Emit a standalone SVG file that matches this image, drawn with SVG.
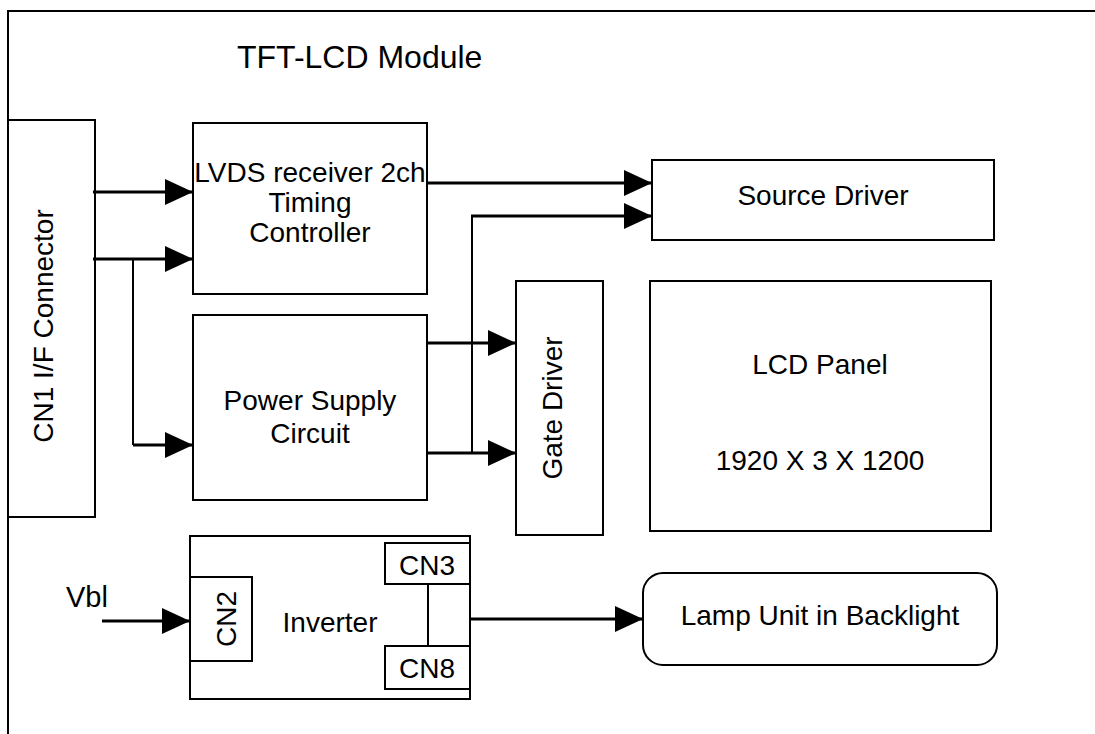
<svg xmlns="http://www.w3.org/2000/svg" width="1095" height="734" viewBox="0 0 1095 734">
<style>
.box{fill:#fff;stroke:#000;stroke-width:2}
.t{font-family:"Liberation Sans",Arial,sans-serif;font-size:28px;fill:#000;text-anchor:middle}
.w{fill:none;stroke:#000;stroke-width:3}
.thin{fill:none;stroke:#000;stroke-width:2}
</style>
<defs>
<marker id="ah" markerUnits="userSpaceOnUse" markerWidth="28" markerHeight="26" refX="28" refY="13" orient="auto">
<path d="M0,0 L28,13 L0,26 z" fill="#000"/>
</marker>
</defs>
<rect width="1095" height="734" fill="#fff"/>
<g id="frame">
<path d="M8,734 L8,11 L1095,11" fill="none" stroke="#000" stroke-width="2"/>
<text x="237" y="68" font-family="'Liberation Sans',Arial,sans-serif" font-size="32" fill="#000">TFT-LCD Module</text>
</g>
<g id="cn1">
<rect class="box" x="8" y="120" width="87" height="397"/>
<text class="t" transform="translate(53,326) rotate(-90)">CN1 I/F Connector</text>
</g>
<g id="lvds">
<rect class="box" x="193" y="123" width="234" height="171"/>
<text class="t" x="310" y="182">LVDS receiver 2ch</text>
<text class="t" x="310" y="212">Timing</text>
<text class="t" x="310" y="242">Controller</text>
</g>
<g id="power">
<rect class="box" x="193" y="315" width="234" height="185"/>
<text class="t" x="310" y="410">Power Supply</text>
<text class="t" x="310" y="443">Circuit</text>
</g>
<g id="source">
<rect class="box" x="652" y="160" width="342" height="80"/>
<text class="t" x="823" y="205">Source Driver</text>
</g>
<g id="gate">
<rect class="box" x="516" y="281" width="87" height="254"/>
<text class="t" transform="translate(562,408) rotate(-90)">Gate Driver</text>
</g>
<g id="panel">
<rect class="box" x="650" y="281" width="341" height="250"/>
<text class="t" x="820" y="374">LCD Panel</text>
<text class="t" x="820" y="470">1920 X 3 X 1200</text>
</g>
<g id="inverter">
<rect class="box" x="190" y="536" width="280" height="163"/>
<text class="t" x="330" y="632">Inverter</text>
</g>
<g id="cn2">
<rect class="box" x="190" y="577" width="62" height="84"/>
<text class="t" transform="translate(236,619) rotate(-90)">CN2</text>
</g>
<g id="cn3">
<rect class="box" x="385" y="543" width="85" height="41"/>
<text class="t" x="427" y="575">CN3</text>
</g>
<g id="cn8">
<rect class="box" x="385" y="646" width="85" height="43"/>
<text class="t" x="427" y="678">CN8</text>
</g>
<g id="lamp">
<rect class="box" x="643" y="573" width="354" height="92" rx="20" ry="20"/>
<text class="t" x="820" y="625">Lamp Unit in Backlight</text>
</g>
<g id="vbl">
<text x="66" y="607" font-family="'Liberation Sans',Arial,sans-serif" font-size="29" fill="#000">Vbl</text>
</g>
<g id="connectors">
<path class="w" d="M93,192 L193,192" marker-end="url(#ah)"/>
<path class="w" d="M93,259 L193,259" marker-end="url(#ah)"/>
<path class="thin" d="M133,259 L133,445"/>
<path class="w" d="M133,445 L193,445" marker-end="url(#ah)"/>
<path class="w" d="M427,183 L652,183" marker-end="url(#ah)"/>
<path class="thin" d="M472,453 L472,216"/>
<path class="w" d="M471,216 L652,216" marker-end="url(#ah)"/>
<path class="w" d="M427,343 L516,343" marker-end="url(#ah)"/>
<path class="w" d="M427,453 L516,453" marker-end="url(#ah)"/>
<path class="w" d="M102,621 L190,621" marker-end="url(#ah)"/>
<path class="w" d="M470,619 L643,619" marker-end="url(#ah)"/>
<path class="thin" d="M428,584 L428,646"/>
</g>
</svg>
